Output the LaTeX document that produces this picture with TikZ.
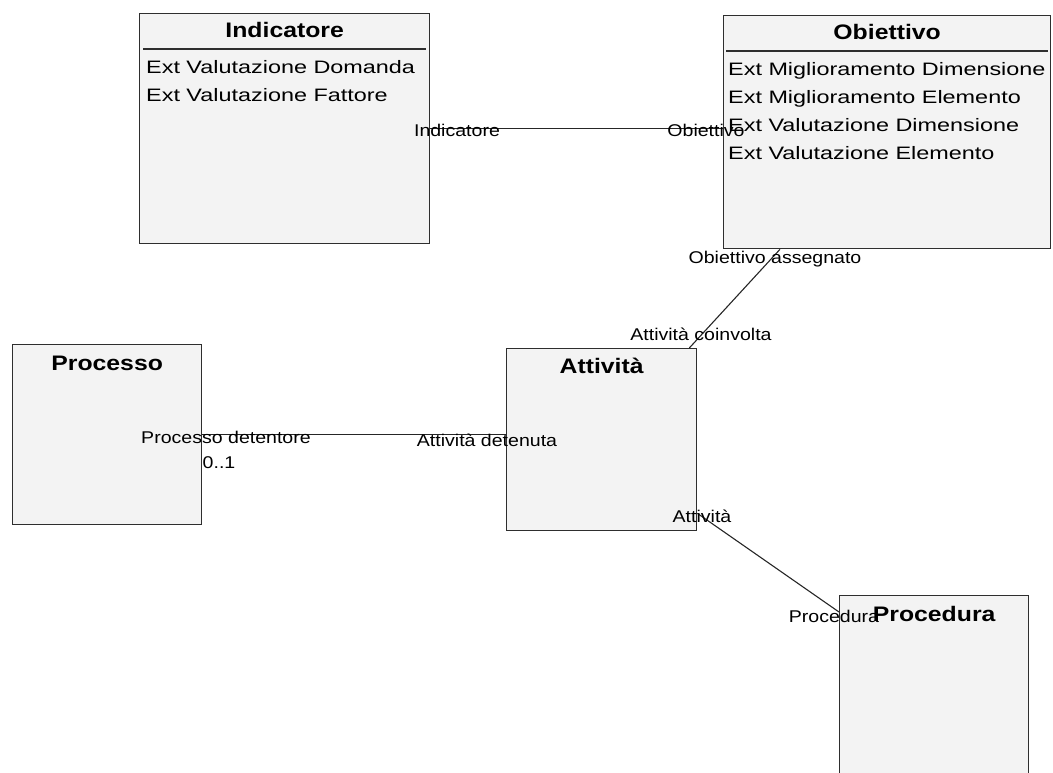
\documentclass[tikz,border=0pt]{standalone}
\usepackage{fontspec}
\setmainfont{Liberation Sans}
\newfontfamily\titlefont[FakeStretch=1.18]{Liberation Sans}
\newfontfamily\attrfont[FakeStretch=1.3]{Liberation Sans}
\newfontfamily\rolefont[FakeStretch=1.15]{Liberation Sans}
\usetikzlibrary{calc}
\definecolor{boxfill}{HTML}{F3F3F3}
\definecolor{boxline}{HTML}{2E2E2E}

\tikzset{
  classbox/.style={draw=boxline, fill=boxfill, line width=1.3pt, inner sep=0pt, anchor=north west},
  classtitle/.style={font=\titlefont\bfseries\fontsize{21}{25}\selectfont, inner sep=0pt, anchor=base},
  attr/.style={font=\attrfont\fontsize{18}{22}\selectfont, inner sep=0pt, anchor=base west},
  role/.style={font=\rolefont\fontsize{17}{20}\selectfont, inner sep=0pt, anchor=base},
  assoc/.style={draw=black!85, line width=1.1pt},
  divider/.style={draw=boxline, line width=1.3pt}
}

\begin{document}
\begin{tikzpicture}[x=1pt, y=-1pt]
  \useasboundingbox (0,0) rectangle (1053,773);
  \clip (0,0) rectangle (1053,773);

  % class boxes
  \node[classbox, minimum width=290pt, minimum height=230pt] (ind) at (139,13) {};
  \node[classbox, minimum width=327pt, minimum height=233pt] (obi) at (723,15) {};
  \node[classbox, minimum width=189pt, minimum height=180pt] (pro) at (12,344) {};
  \node[classbox, minimum width=190pt, minimum height=182pt] (att) at (506,348) {};
  \node[classbox, minimum width=189pt, minimum height=195pt] (prc) at (839,595) {};

  % class names
  \node[classtitle] (indT) at ($(ind.north)+(0,25)$) {Indicatore};
  \node[classtitle] (obiT) at ($(obi.north)+(0,25)$) {Obiettivo};
  \node[classtitle] (proT) at ($(pro.north)+(0,26)$) {Processo};
  \node[classtitle] (attT) at ($(att.north)+(0,25)$) {Attività};
  \node[classtitle] (prcT) at ($(prc.north)+(0,26)$) {Procedura};

  % dividers under the names
  \draw[divider] ($(ind.north west)+(4,36)$) -- ($(ind.north east)+(-4,36)$);
  \draw[divider] ($(obi.north west)+(3,36)$) -- ($(obi.north east)+(-3,36)$);

  % attributes
  \node[attr] (indA1) at ($(ind.north west)+(7,61)$) {Ext Valutazione Domanda};
  \node[attr] (indA2) at ($(ind.north west)+(7,89)$) {Ext Valutazione Fattore};
  \node[attr] (obiA1) at ($(obi.north west)+(5,61)$) {Ext Miglioramento Dimensione};
  \node[attr] (obiA2) at ($(obi.north west)+(5,89)$) {Ext Miglioramento Elemento};
  \node[attr] (obiA3) at ($(obi.north west)+(5,117)$) {Ext Valutazione Dimensione};
  \node[attr] (obiA4) at ($(obi.north west)+(5,145)$) {Ext Valutazione Elemento};

  % associations
  \draw[assoc] (ind.east) -- (ind.east -| obi.west);
  \draw[assoc] (pro.east) -- (pro.east -| att.west);
  \draw[assoc] ($(att.north east)+(-8,0)$) -- ($(obi.south west)+(57,0)$);
  \draw[assoc] ($(att.south east)+(0,-18)$) -- ($(prc.north west)+(0,17)$);

  % role names and multiplicities
  \node[role] (rInd) at (457,137) {Indicatore};
  \node[role] (rObi) at (706,137) {Obiettivo};
  \node[role] (rObiA) at (775,263) {Obiettivo assegnato};
  \node[role] (rAttC) at (701,340) {Attività coinvolta};
  \node[role] (rProD) at (226,443) {Processo detentore};
  \node[role] (rMul) at (219,468) {0..1};
  \node[role] (rAttD) at (487,446) {Attività detenuta};
  \node[role] (rAtt) at (702,522) {Attività};
  \node[role] (rPrc) at (834,622) {Procedura};
\end{tikzpicture}
\end{document}
